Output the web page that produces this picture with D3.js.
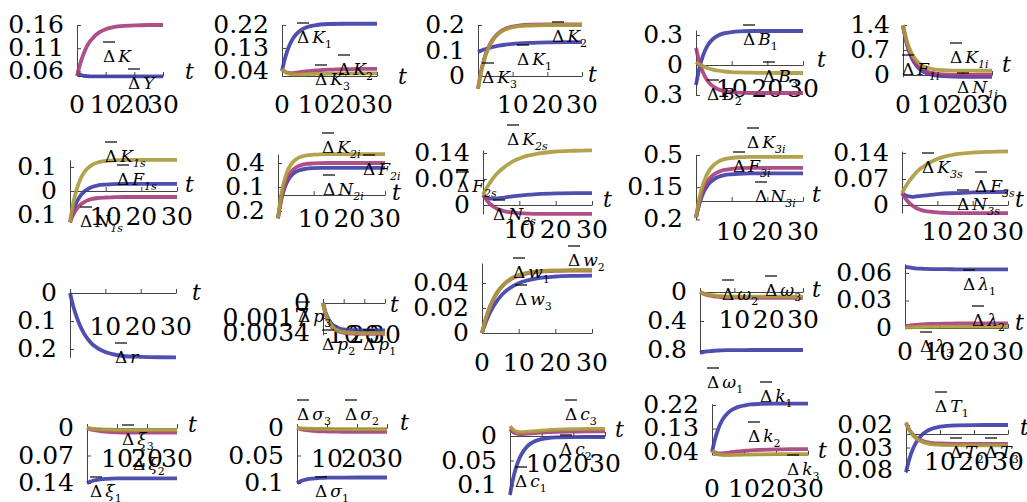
<!DOCTYPE html>
<html><head><meta charset="utf-8">
<script src="https://cdn.jsdelivr.net/npm/d3@7"></script>
<style>
body{margin:0;background:#fff}
svg{display:block}
</style></head>
<body><svg id="c" width="1027" height="502"></svg>
<script>
// ---------- DATA ----------
const T = [0,1,2,3,4,5,6,8,10,12,15,20,25,30];
const xTicks = [0,10,20,30];
const xTickLabels = ["0","10","20","30"];

// panel 1
const p1Ticks = [0.06,0.11,0.16], p1TickLabels = ["0.06","0.11","0.16"];
const p1Y = [0.056,0.053,0.051,0.050,0.0495,0.049,0.049,0.049,0.049,0.049,0.049,0.049,0.049,0.049];
const p1K = [0.05,0.074,0.093,0.108,0.120,0.128,0.135,0.145,0.151,0.1545,0.1575,0.159,0.16,0.16];
const p1Names = [["K",""],["Y",""]];
// panel 2
const p2Ticks = [0.04,0.13,0.22], p2TickLabels = ["0.04","0.13","0.22"];
const p2K1 = [0.04,0.092,0.130,0.157,0.176,0.190,0.200,0.212,0.218,0.222,0.224,0.225,0.225,0.225];
const p2K2 = [0.045,0.036,0.032,0.031,0.032,0.034,0.036,0.039,0.041,0.043,0.045,0.047,0.048,0.048];
const p2K3 = [0.048,0.036,0.030,0.027,0.026,0.026,0.026,0.027,0.028,0.028,0.029,0.030,0.030,0.030];
const p2Names = [["K","1"],["K","2"],["K","3"]];
// panel 3
const p3Ticks = [0,0.1,0.2], p3TickLabels = ["0","0.1","0.2"];
const p3K1 = [0.095,0.10,0.105,0.109,0.113,0.116,0.119,0.123,0.126,0.128,0.130,0.132,0.133,0.133];
const p3K2 = [-0.05,0.025,0.077,0.112,0.138,0.156,0.169,0.186,0.194,0.198,0.201,0.202,0.202,0.202];
const p3K3 = [-0.05,0.021,0.072,0.108,0.134,0.153,0.166,0.183,0.191,0.1955,0.198,0.2,0.2,0.2];
const p3Names = [["K","2"],["K","1"],["K","3"]];
// panel 4
const p4Ticks = [-0.3,0,0.3], p4TickLabels = ["0.3","0","0.3"];
const p4B1 = [-0.2,-0.022,0.097,0.178,0.232,0.267,0.291,0.318,0.329,0.336,0.34,0.34,0.34,0.34];
const p4B2 = [0.17,0.022,-0.078,-0.145,-0.19,-0.219,-0.24,-0.262,-0.271,-0.277,-0.28,-0.28,-0.28,-0.28];
const p4B3 = [0.03,0.006,-0.013,-0.028,-0.04,-0.048,-0.055,-0.065,-0.071,-0.0745,-0.077,-0.079,-0.08,-0.08];
const p4Names = [["B","1"],["B","3"],["B","2"]];
// panel 5
const p5Ticks = [0,0.7,1.4], p5TickLabels = ["0","0.7","1.4"];
const p5N1i = [1.37,0.968,0.678,0.473,0.325,0.218,0.142,0.048,0.001,-0.024,-0.04,-0.048,-0.05,-0.05];
const p5F1i = [1.38,0.989,0.708,0.508,0.364,0.261,0.186,0.095,0.05,0.025,0.009,0.002,0,0];
const p5K1i = [1.4,1.038,0.777,0.591,0.458,0.362,0.293,0.208,0.166,0.143,0.129,0.122,0.12,0.12];
const p5Names = [["K","1i"],["F","1i"],["N","1i"]];
// panel 6
const p6Ticks = [-0.1,0,0.1], p6TickLabels = ["0.1","0","0.1"];
const p6F1s = [-0.13,-0.077,-0.042,-0.018,-0.002,0.008,0.016,0.024,0.027,0.029,0.03,0.03,0.03,0.03];
const p6N1s = [-0.13,-0.095,-0.072,-0.056,-0.046,-0.039,-0.034,-0.029,-0.027,-0.026,-0.025,-0.025,-0.025,-0.025];
const p6K1s = [-0.13,-0.044,0.013,0.052,0.078,0.095,0.107,0.12,0.125,0.128,0.1295,0.13,0.13,0.13];
const p6Names = [["K","1s"],["F","1s"],["N","1s"]];
// panel 7
const p7Ticks = [-0.2,0.1,0.4], p7TickLabels = ["0.2","0.1","0.4"];
const p7N2i = [-0.29,-0.042,0.108,0.2,0.255,0.288,0.309,0.329,0.336,0.339,0.34,0.34,0.34,0.34];
const p7F2i = [-0.29,-0.019,0.146,0.246,0.307,0.343,0.366,0.388,0.395,0.399,0.4,0.4,0.4,0.4];
const p7K2i = [-0.29,0.024,0.216,0.332,0.402,0.444,0.47,0.496,0.504,0.508,0.51,0.51,0.51,0.51];
const p7Names = [["K","2i"],["F","2i"],["N","2i"]];
// panel 8
const p8Ticks = [0,0.07,0.14], p8TickLabels = ["0","0.07","0.14"];
const p8F2s = [0.027,0.02,0.017,0.017,0.018,0.019,0.02,0.023,0.025,0.027,0.029,0.031,0.032,0.032];
const p8N2s = [0.027,0.013,0.002,-0.005,-0.011,-0.014,-0.017,-0.020,-0.022,-0.023,-0.024,-0.024,-0.024,-0.024];
const p8K2s = [0.027,0.046,0.061,0.075,0.086,0.095,0.103,0.116,0.125,0.132,0.138,0.144,0.146,0.147];
const p8Names = [["K","2s"],["F","2s"],["N","2s"]];
// panel 9
const p9Ticks = [-0.2,0.15,0.5], p9TickLabels = ["0.2","0.15","0.5"];
const p9N3i = [-0.18,-0.022,0.084,0.156,0.204,0.235,0.257,0.281,0.29,0.296,0.299,0.3,0.3,0.3];
const p9F3i = [-0.18,-0.002,0.117,0.198,0.252,0.287,0.311,0.338,0.349,0.356,0.359,0.36,0.36,0.36];
const p9K3i = [-0.18,0.038,0.183,0.282,0.348,0.391,0.421,0.454,0.467,0.475,0.479,0.48,0.48,0.48];
const p9Names = [["K","3i"],["F","3i"],["N","3i"]];
// panel 10
const p10Ticks = [0,0.07,0.14], p10TickLabels = ["0","0.07","0.14"];
const p10F3s = [0.032,0.026,0.023,0.022,0.023,0.024,0.025,0.027,0.029,0.031,0.032,0.034,0.035,0.035];
const p10N3s = [0.032,0.017,0.006,-0.002,-0.008,-0.012,-0.015,-0.018,-0.020,-0.021,-0.022,-0.022,-0.022,-0.022];
const p10K3s = [0.032,0.049,0.064,0.076,0.087,0.096,0.103,0.115,0.124,0.130,0.136,0.141,0.143,0.144];
const p10Names = [["K","3s"],["F","3s"],["N","3s"]];
// panel 11
const p11Ticks = [-0.2,-0.1,0], p11TickLabels = ["0.2","0.1","0"];
const p11r = [0,-0.051,-0.09,-0.121,-0.145,-0.164,-0.179,-0.199,-0.211,-0.2185,-0.225,-0.228,-0.2295,-0.23];
const p11Names = [["r",""]];
// panel 12
const p12Ticks = [-0.0034,-0.0017,0], p12TickLabels = ["0.0034","0.0017","0"];
const p12p1 = [0,-0.00088,-0.00151,-0.00196,-0.00228,-0.00251,-0.00268,-0.00289,-0.00299,-0.00304,-0.00308,-0.0031,-0.0031,-0.0031];
const p12p2 = [0,-0.00099,-0.0017,-0.00221,-0.00258,-0.00284,-0.00303,-0.00326,-0.00337,-0.00344,-0.00348,-0.0035,-0.0035,-0.0035];
const p12p3 = [0,-0.00096,-0.00166,-0.00215,-0.0025,-0.00276,-0.00294,-0.00317,-0.00328,-0.00334,-0.00338,-0.0034,-0.0034,-0.0034];
const p12Names = [["p","3"],["p","2"],["p","1"]];
// panel 13
const p13Ticks = [0,0.02,0.04], p13TickLabels = ["0","0.02","0.04"];
const p13w3 = [0,0.0083,0.0152,0.0207,0.0253,0.0291,0.0322,0.0367,0.0398,0.0418,0.0437,0.0452,0.0457,0.0459];
const p13w1 = [0,0.011,0.0197,0.0264,0.0316,0.0357,0.0389,0.0433,0.0459,0.0475,0.0489,0.0497,0.0499,0.05];
const p13w2 = [0,0.0112,0.0198,0.0267,0.0319,0.036,0.0392,0.0437,0.0464,0.048,0.0493,0.0501,0.0504,0.0505];
const p13Names = [["w","1"],["w","2"],["w","3"]];
// panel 14
const p14Ticks = [-0.8,-0.4,0], p14TickLabels = ["0.8","0.4","0"];
const p14o1 = [-0.84,-0.8287,-0.8205,-0.8147,-0.8106,-0.8076,-0.8054,-0.8028,-0.8014,-0.8007,-0.8003,-0.8,-0.8,-0.8];
const p14o2 = [0,-0.0226,-0.039,-0.0506,-0.0589,-0.0649,-0.0692,-0.0745,-0.0771,-0.0786,-0.0794,-0.0799,-0.08,-0.08];
const p14o3 = [0,-0.0184,-0.0317,-0.0411,-0.0478,-0.0527,-0.0562,-0.0605,-0.0627,-0.0638,-0.0645,-0.0649,-0.065,-0.065];
const p14Names = [["ω","2"],["ω","3"],["ω","1"]];
// panel 15
const p15Ticks = [0,0.03,0.06], p15TickLabels = ["0","0.03","0.06"];
const p15l1 = [0.067,0.0662,0.0655,0.0651,0.0648,0.0646,0.0644,0.0642,0.0641,0.0641,0.064,0.064,0.064,0.064];
const p15l2 = [0.002,0.0025,0.003,0.0034,0.0037,0.0039,0.0041,0.0044,0.0046,0.0047,0.0049,0.0049,0.005,0.005];
const p15l3 = [0.0005,0.0007,0.0008,0.001,0.0011,0.0011,0.0012,0.0013,0.0014,0.0014,0.0015,0.0015,0.0015,0.0015];
const p15Names = [["λ","1"],["λ","2"],["λ","3"]];
// panel 16
const p16Ticks = [-0.14,-0.07,0], p16TickLabels = ["0.14","0.07","0"];
const p16x1 = [-0.14,-0.1366,-0.1342,-0.1324,-0.1312,-0.1303,-0.1296,-0.1288,-0.1284,-0.1282,-0.1281,-0.128,-0.128,-0.128];
const p16x2 = [0,-0.0027,-0.0047,-0.0063,-0.0076,-0.0086,-0.0093,-0.0104,-0.011,-0.0114,-0.0117,-0.0119,-0.012,-0.012];
const p16x3 = [0,-0.0011,-0.002,-0.0026,-0.0032,-0.0036,-0.0039,-0.0043,-0.0046,-0.0048,-0.0049,-0.005,-0.005,-0.005];
const p16Names = [["ξ","3"],["ξ","2"],["ξ","1"]];
// panel 17
const p17Ticks = [-0.1,-0.05,0], p17TickLabels = ["0.1","0.05","0"];
const p17s1 = [-0.1,-0.0972,-0.0951,-0.0937,-0.0926,-0.0919,-0.0914,-0.0907,-0.0904,-0.0902,-0.0901,-0.09,-0.09,-0.09];
const p17s2 = [0,-0.0015,-0.0028,-0.0037,-0.0044,-0.005,-0.0054,-0.0061,-0.0064,-0.0067,-0.0068,-0.007,-0.007,-0.007];
const p17s3 = [0,-0.0004,-0.0008,-0.0011,-0.0013,-0.0014,-0.0016,-0.0017,-0.0018,-0.0019,-0.002,-0.002,-0.002,-0.002];
const p17Names = [["σ","3"],["σ","2"],["σ","1"]];
// panel 18
const p18Ticks = [-0.1,-0.05,0], p18TickLabels = ["0.1","0.05","0"];
const p18c1 = [-0.12,-0.0866,-0.0625,-0.0454,-0.0331,-0.0243,-0.0179,-0.0101,-0.0062,-0.0041,-0.0028,-0.0021,-0.002,-0.002];
const p18c2 = [0.014,0.008,0.005,0.004,0.004,0.0045,0.005,0.006,0.007,0.0078,0.0085,0.009,0.0095,0.0095];
const p18c3 = [0.02,0.013,0.009,0.008,0.008,0.0085,0.009,0.010,0.011,0.012,0.013,0.014,0.0145,0.0145];
const p18Names = [["c","3"],["c","2"],["c","1"]];
// panel 19
const p19Ticks = [0.04,0.13,0.22], p19TickLabels = ["0.04","0.13","0.22"];
const p19k1 = [0.04,0.092,0.130,0.157,0.176,0.190,0.200,0.212,0.218,0.222,0.224,0.225,0.225,0.225];
const p19k2 = [0.045,0.038,0.035,0.035,0.036,0.037,0.039,0.042,0.044,0.046,0.048,0.05,0.051,0.051];
const p19k3 = [0.046,0.036,0.031,0.029,0.028,0.028,0.028,0.029,0.030,0.030,0.031,0.032,0.032,0.032];
const p19Names = [["k","1"],["k","2"],["k","3"]];
// panel 20
const p20Ticks = [-0.08,-0.03,0.02], p20TickLabels = ["0.08","0.03","0.02"];
const p20T1 = [-0.085,-0.0553,-0.0339,-0.0186,-0.0077,0.0002,0.0058,0.0128,0.0162,0.0181,0.0193,0.0199,0.02,0.02];
const p20T2 = [0.024,0.0088,-0.0013,-0.0082,-0.0128,-0.0158,-0.0179,-0.0202,-0.0211,-0.0216,-0.0219,-0.022,-0.022,-0.022];
const p20T3 = [0.026,0.0092,-0.0021,-0.0097,-0.0148,-0.0181,-0.0204,-0.023,-0.024,-0.0246,-0.0249,-0.025,-0.025,-0.025];
const p20Names = [["T","1"],["T","2"],["T","3"]];

// ---------- LAYOUT (pixel placement per panel) ----------
const layouts = [
 {ax:77,x30:163,yDom:[0.05,0.16],yR:[76,25],at:0.05,xlb:113,zero:true,t:[185,79],lab:[[103,62],[128,89]]},
 {ax:282,x30:377,yDom:[0.02,0.22],yR:[76,25],at:0.02,xlb:113,zero:true,t:[398,84],lab:[[297,43],[338,75],[315,85]]},
 {ax:478,x30:582,yDom:[-0.05,0.2],yR:[88.75,25],at:0,xlb:113,zero:false,t:[588,82],lab:[[552,42],[517,65],[482,83]]},
 {ax:696,x30:803,yDom:[-0.3,0.35],yR:[95,30],at:0,xlb:97,zero:false,t:[817,67],lab:[[743,45],[763,82],[707,100]]},
 {ax:903,x30:992,yDom:[-0.05,1.4],yR:[76.8,25],at:0,xlb:113,zero:true,t:[1002,72],lab:[[950,63],[902,75],[957,93]]},
 {ax:70,x30:177,yDom:[-0.13,0.13],yR:[222.2,159.8],at:0,xlb:225,zero:false,t:[185,192],lab:[[105,162],[117,185],[80,227]]},
 {ax:278,x30:385,yDom:[-0.29,0.51],yR:[218.2,154.2],at:0,xlb:227,zero:false,t:[392,200],lab:[[322,153],[363,175],[323,195]]},
 {ax:483,x30:592,yDom:[-0.024,0.148],yR:[213.9,150],at:0,xlb:238,zero:false,t:[603,207],lab:[[507,145],[457,192],[493,220]]},
 {ax:696,x30:803,yDom:[-0.2,0.48],yR:[219.4,156.8],at:0,xlb:240,zero:false,t:[812,202],lab:[[747,148],[733,172],[755,202]]},
 {ax:902,x30:1008,yDom:[-0.022,0.145],yR:[213.2,151.1],at:0,xlb:240,zero:false,t:[1015,207],lab:[[922,173],[975,192],[957,210]]},
 {ax:70,x30:176,yDom:[-0.23,0],yR:[357.4,293],at:0,xlb:335,zero:false,t:[192,300],lab:[[115,363]]},
 {ax:323,x30:385,yDom:[-0.0036,0],yR:[334.8,303],at:0,xlb:343,zero:false,t:[390,312],lab:[[298,322],[322,350],[363,350]]},
 {ax:482,x30:592,yDom:[0,0.056],yR:[333,263],at:0,xlb:371,zero:true,t:null,lab:[[513,278],[568,266],[515,305]]},
 {ax:700,x30:803,yDom:[-0.84,0],yR:[352.9,292],at:0,xlb:328,zero:false,t:[812,297],lab:[[722,300],[765,296],[707,388]]},
 {ax:905,x30:1008,yDom:[0,0.07],yR:[328,263.8],at:0,xlb:360,zero:true,t:[1015,330],lab:[[963,290],[972,326],[920,352]]},
 {ax:87,x30:177,yDom:[-0.14,0],yR:[483,428],at:0,xlb:467,zero:false,t:[188,432],lab:[[122,445],[133,470],[90,497]]},
 {ax:297,x30:387,yDom:[-0.1,0],yR:[483,428],at:0,xlb:467,zero:false,t:[400,430],lab:[[297,420],[345,420],[315,497]]},
 {ax:510,x30:605,yDom:[-0.12,0.02],yR:[494.8,426.2],at:0,xlb:472,zero:false,t:[615,437],lab:[[565,420],[560,455],[515,487]]},
 {ax:712,x30:808,yDom:[0.03,0.225],yR:[454.6,403.7],at:0.03,xlb:497,zero:true,t:[818,458],lab:[[760,402],[748,442],[787,475]]},
 {ax:906,x30:1008,yDom:[-0.085,0.026],yR:[472.25,422.3],at:0,xlb:470,zero:false,t:[1020,435],lab:[[935,412],[950,458],[985,458]]}
];

const panelsData = [
 [p1Ticks,p1TickLabels,[p1Y,p1K],p1Names],
 [p2Ticks,p2TickLabels,[p2K1,p2K2,p2K3],p2Names],
 [p3Ticks,p3TickLabels,[p3K1,p3K2,p3K3],p3Names],
 [p4Ticks,p4TickLabels,[p4B1,p4B2,p4B3],p4Names],
 [p5Ticks,p5TickLabels,[p5N1i,p5F1i,p5K1i],p5Names],
 [p6Ticks,p6TickLabels,[p6F1s,p6N1s,p6K1s],p6Names],
 [p7Ticks,p7TickLabels,[p7N2i,p7F2i,p7K2i],p7Names],
 [p8Ticks,p8TickLabels,[p8F2s,p8N2s,p8K2s],p8Names],
 [p9Ticks,p9TickLabels,[p9N3i,p9F3i,p9K3i],p9Names],
 [p10Ticks,p10TickLabels,[p10F3s,p10N3s,p10K3s],p10Names],
 [p11Ticks,p11TickLabels,[p11r],p11Names],
 [p12Ticks,p12TickLabels,[p12p1,p12p2,p12p3],p12Names],
 [p13Ticks,p13TickLabels,[p13w3,p13w1,p13w2],p13Names],
 [p14Ticks,p14TickLabels,[p14o1,p14o2,p14o3],p14Names],
 [p15Ticks,p15TickLabels,[p15l1,p15l2,p15l3],p15Names],
 [p16Ticks,p16TickLabels,[p16x1,p16x2,p16x3],p16Names],
 [p17Ticks,p17TickLabels,[p17s1,p17s2,p17s3],p17Names],
 [p18Ticks,p18TickLabels,[p18c1,p18c2,p18c3],p18Names],
 [p19Ticks,p19TickLabels,[p19k1,p19k2,p19k3],p19Names],
 [p20Ticks,p20TickLabels,[p20T1,p20T2,p20T3],p20Names]
];

// ---------- DRAW ----------
const FONT = "DejaVu Serif, Liberation Serif, serif";
const COLORS = ["#3c3ca6","#a63c7a","#aa9a3c"];
const svg = d3.select("#c");

function txt(g, x, y, size){
  return g.append("text").attr("x",x).attr("y",y).attr("font-size",size)
    .attr("font-family",FONT).attr("fill","#000");
}

function drawLabel(g, px, py, letter, sub){
  g.append("line").attr("x1",px).attr("x2",px+12).attr("y1",py-20).attr("y2",py-20)
    .attr("stroke","#000").attr("stroke-width",1.2);
  const t = txt(g, px, py, 17);
  t.append("tspan").text("Δ");
  t.append("tspan").attr("dx",3).attr("font-style","italic").text(letter);
  if (sub) t.append("tspan").attr("font-size",11).attr("dy",5)
      .attr("font-style", /[a-z]/.test(sub) ? "italic" : "normal").text(sub);
}

layouts.forEach((L,i)=>{
  const [ticks,tickLabels,series,names] = panelsData[i];
  const g = svg.append("g");
  const x = d3.scaleLinear().domain([0,30]).range([L.ax,L.x30]);
  const y = d3.scaleLinear().domain(L.yDom).range(L.yR);
  const lo = Math.min(L.yDom[0], d3.min(ticks)), hi = Math.max(L.yDom[1], d3.max(ticks));
  const yAxisScale = y.copy().domain([lo,hi]).range([y(lo),y(hi)]);
  const ay = y(L.at);

  const xa = g.append("g").attr("transform",`translate(0,${ay})`)
    .call(d3.axisBottom(x).tickValues(xTicks).tickSizeInner(-4).tickSizeOuter(0).tickFormat(""));
  const ya = g.append("g").attr("transform",`translate(${L.ax},0)`)
    .call(d3.axisLeft(yAxisScale).tickValues(ticks).tickSizeInner(-4).tickSizeOuter(0).tickFormat(""));
  [xa,ya].forEach(a=>{a.selectAll("path,line").attr("stroke","#444").attr("stroke-width",1);});

  ticks.forEach((v,k)=>{
    txt(g, L.ax-13, y(v)+8, 25).attr("text-anchor","end").text(tickLabels[k]);
  });
  xTicks.forEach((v,k)=>{
    if (v===0 && !L.zero) return;
    txt(g, x(v), L.xlb, 25).attr("text-anchor","middle").text(xTickLabels[k]);
  });
  const line = d3.line().x((d,j)=>x(T[j])).y(d=>y(d)).curve(d3.curveMonotoneX);
  series.forEach((s,k)=>{
    g.append("path").datum(s).attr("d",line).attr("fill","none")
      .attr("stroke",COLORS[k]).attr("stroke-width",3.8).attr("stroke-opacity",0.9);
  });
  if (L.t) txt(g, L.t[0], L.t[1], 22).attr("font-style","italic").text("t");
  names.forEach((n,k)=>{ const p = L.lab[k]; if (p) drawLabel(g,p[0],p[1],n[0],n[1]); });
});
</script></body></html>
